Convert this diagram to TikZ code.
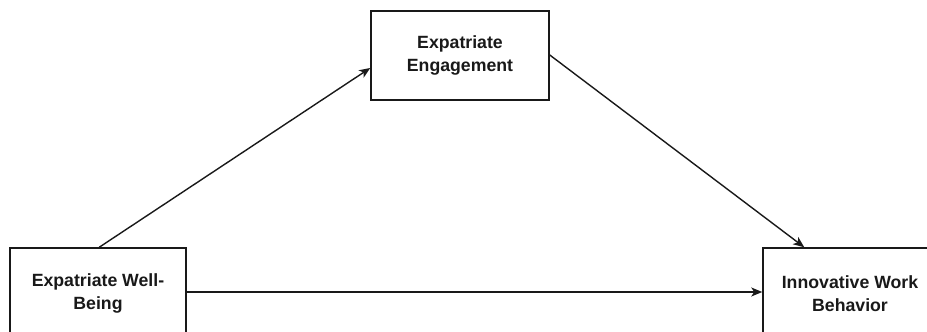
\documentclass[tikz,border=0pt]{standalone}
\usepackage{fontspec}
\setmainfont{Liberation Sans}
\usetikzlibrary{arrows.meta}
\begin{document}
\begin{tikzpicture}[x=1pt,y=1pt,
  box/.style={draw=black!90, line width=1.5pt, fill=white, align=center, inner sep=0pt,
    font=\bfseries\fontsize{17.7}{23}\selectfont, text=black!90},
  conn/.style={draw=black!90, line width=1.4pt, -{Stealth[length=11pt,width=9pt,inset=3pt]}}]
\useasboundingbox (0,0) rectangle (927,332);
\clip (0,0) rectangle (927,332);
\node[box, minimum width=176pt, minimum height=91pt] (L) at (98,38.5) {Expatriate Well-\\Being};
\node[box, minimum width=174pt, minimum height=91pt] (R) at (850,38.5) {Innovative Work\\Behavior};
\node[box, minimum width=178pt, minimum height=89pt] (T) at (460,276.5) {Expatriate\\Engagement};
\draw[conn] ([xshift=90pt]L.north west) -- ([yshift=-12.5pt]T.west);
\draw[conn] ([yshift=0.5pt]T.east) -- ([xshift=42pt]R.north west);
\draw[conn] ([yshift=1.5pt]L.east) -- ([yshift=1.5pt]R.west);
\end{tikzpicture}
\end{document}
